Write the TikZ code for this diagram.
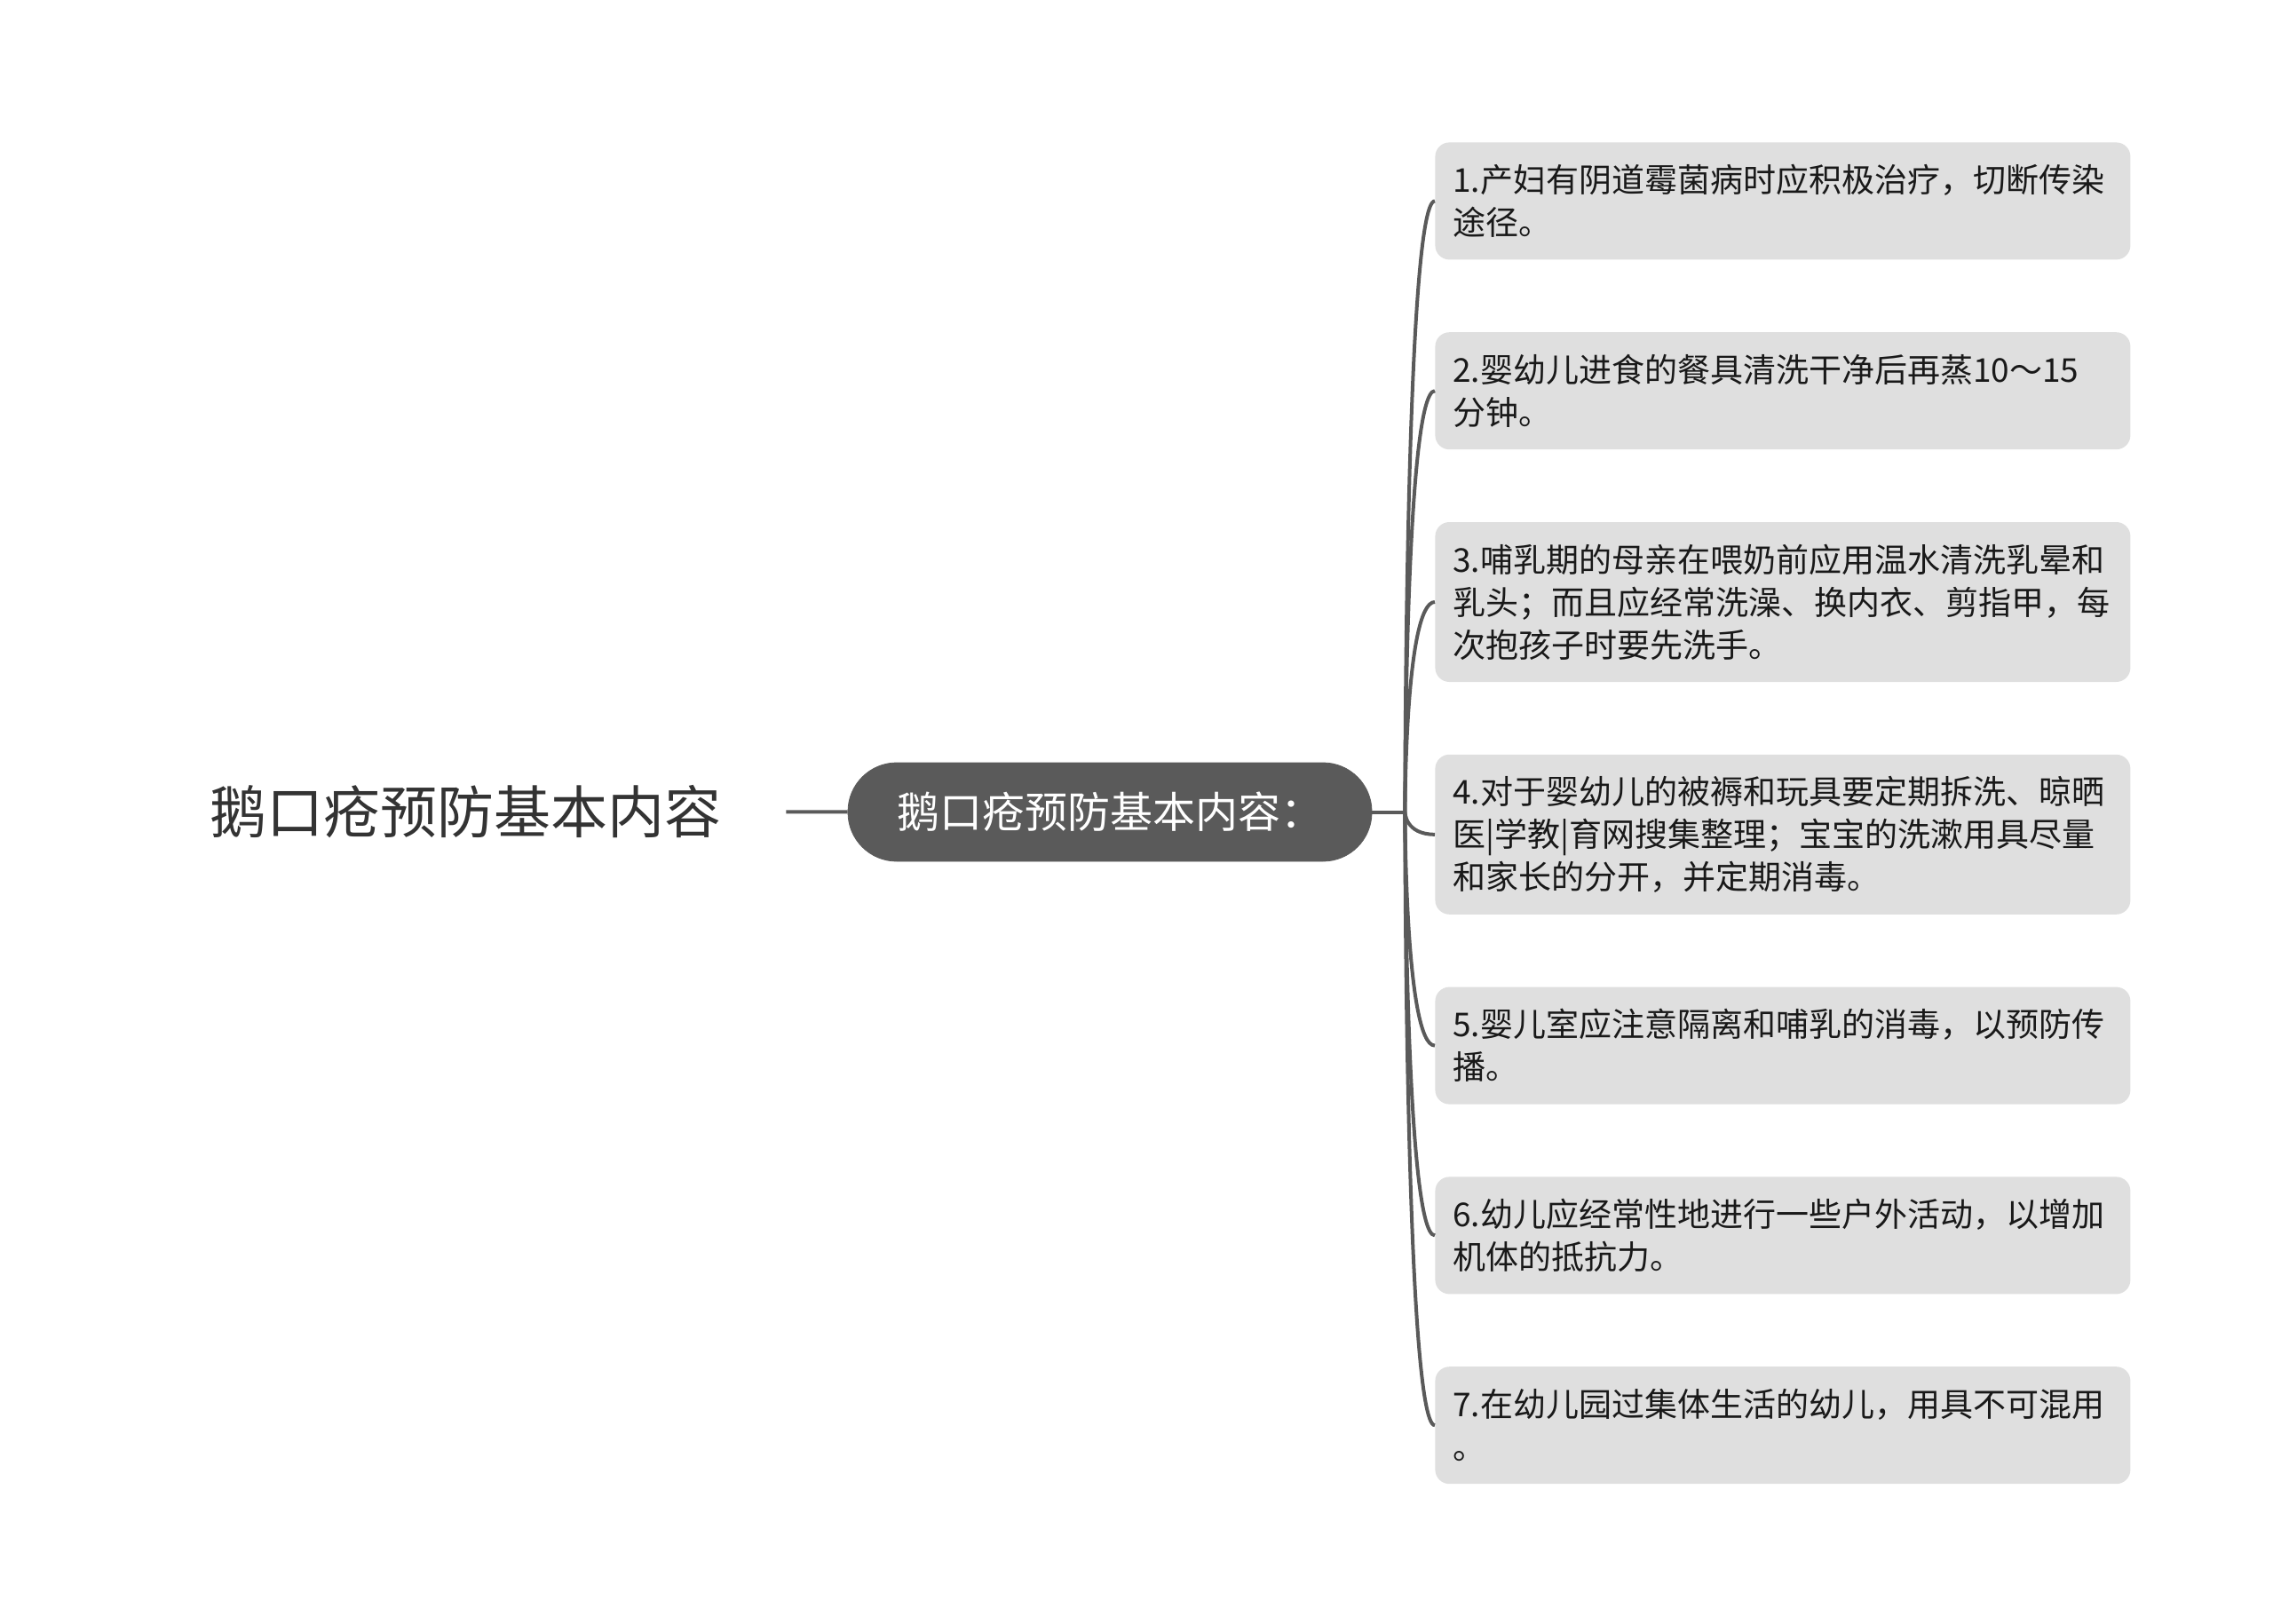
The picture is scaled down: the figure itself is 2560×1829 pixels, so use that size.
\documentclass[tikz,border=0pt]{standalone}
\usepackage{fontspec}
\setmainfont{Noto Sans CJK SC}
\usepackage{tikz}
\usetikzlibrary{positioning}

\definecolor{linegray}{HTML}{5A5A5A}
\definecolor{boxgray}{HTML}{DFDFDF}
\definecolor{inkgray}{HTML}{333333}

\begin{document}
\begin{tikzpicture}
  [x=0.5pt,y=-0.5pt,
 topic/.style={
  inner xsep=36.5pt,
  inner ysep=0pt,
  text=inkgray,
  font=\fontsize{32pt}{38pt}\selectfont},
 pill/.style={
  rectangle,
 rounded corners=27.5pt,
  fill=linegray,
  draw=linegray,
  text=white,
  minimum width=295pt,
    minimum height=55.5pt,
  inner sep=0pt,
  font=\fontsize{24pt}{28pt}\selectfont},
 leaf/.style={
  rectangle,
 rounded corners=8pt,
  fill=boxgray,
  text=black!90,
  text width=371.5pt,
  inner xsep=10pt,
  inner ysep=0pt,
    minimum height=66pt, 
  align=left,
  font=\fontsize{18.5pt}{24pt}\selectfont},
 leaf3/.style={leaf, minimum height=90pt},
 branch/.style={draw=linegray, line width=2pt}]
\useasboundingbox (0,0) rectangle (2560,1829);
\node (root) [topic] at (524,914) {鹅口疮预防基本内容};
\node (main) [pill] at (1250,914.5) {鹅口疮预防基本内容：};
\coordinate (fork) at ([xshift=18.5pt]main.east);
\node (tip1) [leaf, anchor=north west] at (1616,160) {1.产妇有阴道霉菌病时应积极治疗，切断传染\\途径。};
\node (tip2) [leaf, below=40.5pt of tip1] {2.婴幼儿进食的餐具清洗干净后再蒸10～15\\分钟。};
\node (tip3) [leaf3, below=40.5pt of tip2] {3.哺乳期的母亲在喂奶前应用温水清洗乳晕和\\乳头；而且应经常洗澡、换内衣、剪指甲，每\\次抱孩子时要先洗手。};
\node (tip4) [leaf3, below=40.5pt of tip3] {4.对于婴幼儿的被褥和玩具要定期拆洗、晾晒\\医|学教|育网搜集整理；宝宝的洗漱用具尽量\\和家长的分开，并定期消毒。};
\node (tip5) [leaf, below=40.5pt of tip4] {5.婴儿室应注意隔离和哺乳的消毒，以预防传\\播。};
\node (tip6) [leaf, below=40.5pt of tip5] {6.幼儿应经常性地进行一些户外活动，以增加\\机体的抵抗力。};
\node (tip7) [leaf, below=40.5pt of tip6] {7.在幼儿园过集体生活的幼儿，用具不可混用\\。};
\path (root)  edge[branch] (main) ;
\path (main.east)  edge[branch] (fork) ;
\foreach \i in {1,...,7}
  \draw[branch] (fork) .. controls (fork) and (fork |- tip\i.west) .. (tip\i.west);
\end{tikzpicture}
\end{document}
